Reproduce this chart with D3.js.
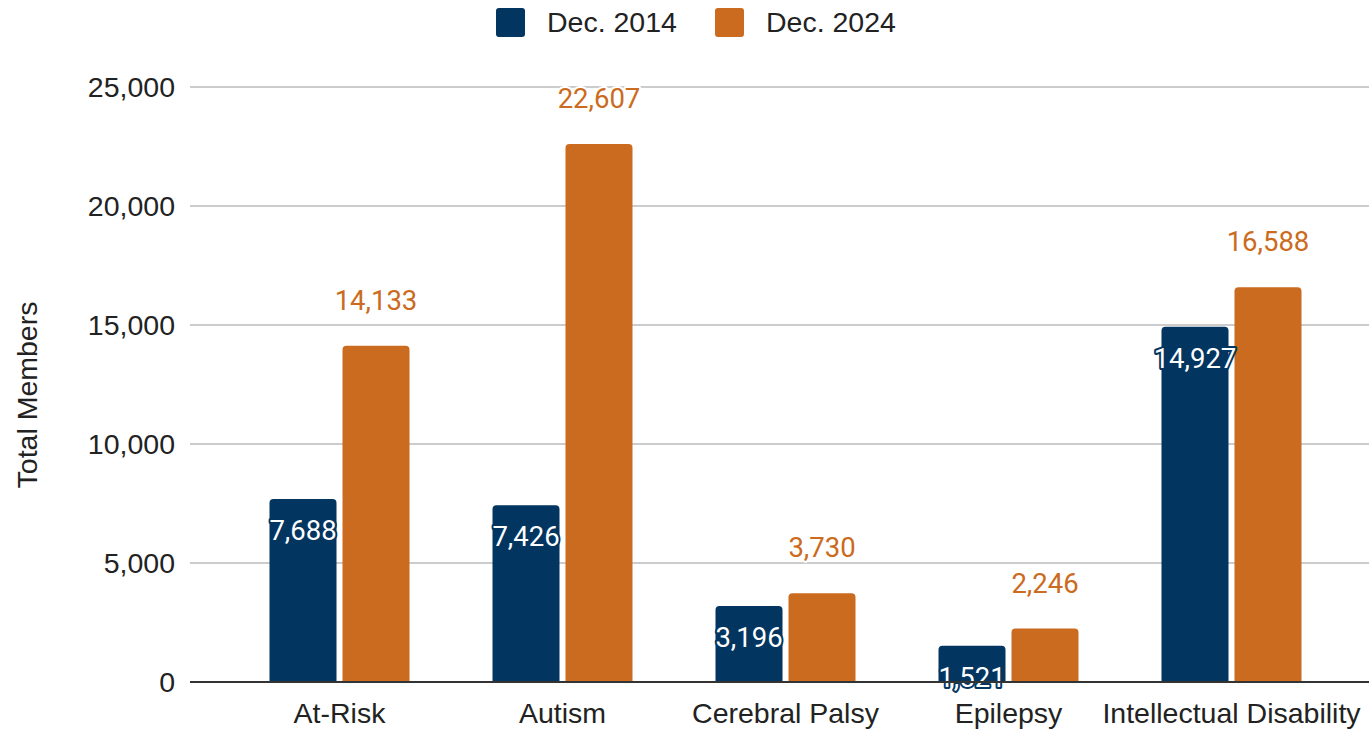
<!DOCTYPE html>
<html>
<head>
<meta charset="utf-8">
<script src="https://cdn.jsdelivr.net/npm/d3@7"></script>
<style>
  body { margin: 0; background: #fff; }
  svg { font-family: "Liberation Sans", Arial, sans-serif; }
</style>
</head>
<body>
<div id="chart"></div>
<script>
// Data
const categories = ["At-Risk", "Autism", "Cerebral Palsy", "Epilepsy", "Intellectual Disability"];
const seriesNames = ["Dec. 2014", "Dec. 2024"];
const dec2014 = [7688, 7426, 3196, 1521, 14927];
const dec2024 = [14133, 22607, 3730, 2246, 16588];
const yTicks = [0, 5000, 10000, 15000, 20000, 25000];

const colors = ["#02355f", "#cb6b20"];
const width = 1369;
const height = 729;

const svg = d3.select("#chart")
  .append("svg")
  .attr("width", width)
  .attr("height", height);

const x = d3.scaleBand()
  .domain(categories)
  .range([228, 1343]);

const xs = d3.scaleBand()
  .domain(seriesNames)
  .range([x.bandwidth() / 2 - 70, x.bandwidth() / 2 + 70])
  .paddingInner(0.082);

const y = d3.scaleLinear()
  .domain([0, 25000])
  .range([682, 87]);

const fmt = d3.format(",");

// gridlines
svg.append("g")
  .selectAll("line")
  .data(yTicks.filter(d => d > 0))
  .join("line")
  .attr("x1", 190)
  .attr("x2", width)
  .attr("y1", d => y(d))
  .attr("y2", d => y(d))
  .attr("stroke", "#cccccc")
  .attr("stroke-width", 2);

// y tick labels
svg.append("g")
  .selectAll("text")
  .data(yTicks)
  .join("text")
  .attr("x", 175)
  .attr("y", d => y(d))
  .attr("dy", "0.35em")
  .attr("text-anchor", "end")
  .attr("font-size", "28.5px")
  .attr("fill", "#222")
  .text(d => fmt(d));

// y title
svg.append("text")
  .attr("transform", "translate(37, 395) rotate(-90)")
  .attr("text-anchor", "middle")
  .attr("font-size", "28.5px")
  .attr("fill", "#222")
  .text("Total Members");

const rows = categories.map((c, i) => ({ cat: c, values: [dec2014[i], dec2024[i]] }));

// rounded-top bar path
function barPath(x0, w, top, bottom, r) {
  return `M${x0},${bottom}V${top + r}Q${x0},${top} ${x0 + r},${top}` +
    `H${x0 + w - r}Q${x0 + w},${top} ${x0 + w},${top + r}V${bottom}Z`;
}

const groups = svg.append("g")
  .selectAll("g")
  .data(rows)
  .join("g")
  .attr("transform", d => `translate(${x(d.cat)},0)`);

groups.selectAll("path")
  .data(d => d.values.map((v, i) => ({ s: seriesNames[i], v: v, i: i })))
  .join("path")
  .attr("d", d => barPath(xs(d.s), xs.bandwidth(), y(d.v), y(0), 4))
  .attr("fill", d => colors[d.i]);

// baseline
svg.append("line")
  .attr("x1", 190)
  .attr("x2", width)
  .attr("y1", y(0))
  .attr("y2", y(0))
  .attr("stroke", "#333")
  .attr("stroke-width", 2);

// labels for Dec. 2014 (inside, white with halo)
groups.append("text")
  .attr("x", xs(seriesNames[0]) + xs.bandwidth() / 2)
  .attr("y", d => y(d.values[0]) + 41)
  .attr("text-anchor", "middle")
  .style("font-family", "Roboto, sans-serif")
  .attr("font-size", "27.5px")
  .attr("fill", "#fff")
  .attr("stroke", colors[0])
  .attr("stroke-width", 4)
  .attr("stroke-linejoin", "round")
  .attr("paint-order", "stroke")
  .text(d => fmt(d.values[0]));

// labels for Dec. 2024 (above)
groups.append("text")
  .attr("x", xs(seriesNames[1]) + xs.bandwidth() / 2)
  .attr("y", d => y(d.values[1]) - 36)
  .attr("text-anchor", "middle")
  .style("font-family", "Roboto, sans-serif")
  .attr("font-size", "27.5px")
  .attr("fill", colors[1])
  .attr("stroke", "#fff")
  .attr("stroke-width", 4)
  .attr("stroke-linejoin", "round")
  .attr("paint-order", "stroke")
  .text(d => fmt(d.values[1]));

// category labels
svg.append("g")
  .selectAll("text")
  .data(categories)
  .join("text")
  .attr("x", d => x(d) + x.bandwidth() / 2)
  .attr("y", 723)
  .attr("text-anchor", "middle")
  .attr("font-size", "28.5px")
  .attr("fill", "#222")
  .text(d => d);

// legend
const legendX = [496, 715];
const legend = svg.append("g")
  .selectAll("g")
  .data(seriesNames)
  .join("g")
  .attr("transform", (d, i) => `translate(${legendX[i]}, 8)`);

legend.append("rect")
  .attr("width", 29)
  .attr("height", 29)
  .attr("rx", 3)
  .attr("fill", (d, i) => colors[i]);

legend.append("text")
  .attr("x", 51)
  .attr("y", 14.5)
  .attr("dy", "0.35em")
  .attr("font-size", "28.5px")
  .attr("fill", "#222")
  .text(d => d);
</script>
</body>
</html>
